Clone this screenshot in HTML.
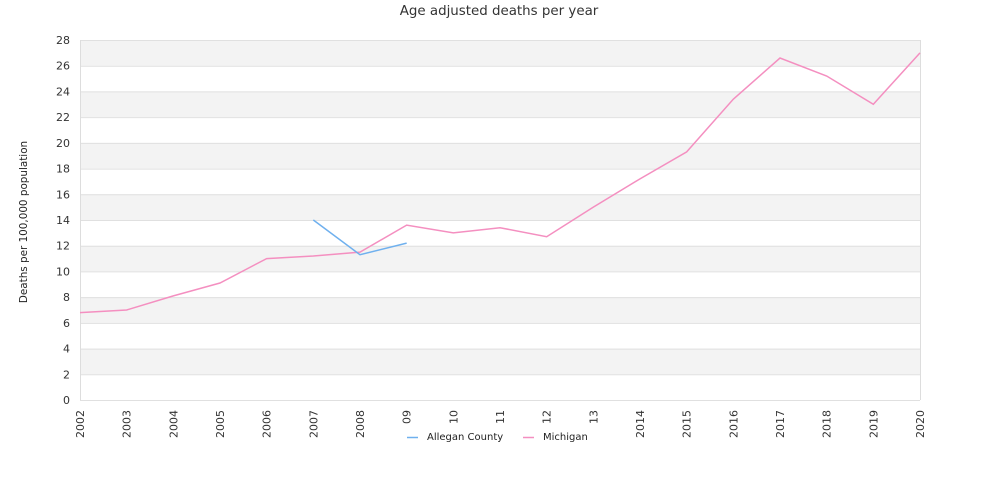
<!DOCTYPE html>
<html><head><style>body{margin:0;background:#fff}svg{display:block;font-family:"DejaVu Sans","Liberation Sans",sans-serif}</style></head><body>
<svg width="1000" height="500" xmlns="http://www.w3.org/2000/svg">
<text x="499" y="15" text-anchor="middle" font-size="13.4" fill="#333">Age adjusted deaths per year</text>
<g id="bands"></g>
<text transform="translate(27,222) rotate(-90)" text-anchor="middle" font-size="10.4" fill="#222">Deaths per 100,000 population</text>
<g id="grid"></g>
<g id="x"></g>
<polyline id="mi" fill="none" stroke="#f48fc0" stroke-width="1.5"/>
<polyline id="al" fill="none" stroke="#6fb0ee" stroke-width="1.5"/>
<line x1="407" y1="437.5" x2="418" y2="437.5" stroke="#6fb0ee" stroke-width="1.5"/>
<text x="427" y="440" font-size="10" fill="#222">Allegan County</text>
<line x1="523" y1="437.5" x2="534" y2="437.5" stroke="#f48fc0" stroke-width="1.5"/>
<text x="543" y="440" font-size="10" fill="#222">Michigan</text>
</svg>
<script>
const ns="http://www.w3.org/2000/svg",s=document.querySelector('svg');
function el(t,a,p,txt){const e=document.createElementNS(ns,t);for(const k in a)e.setAttribute(k,a[k]);if(txt!==undefined)e.textContent=txt;(p||s).appendChild(e);return e;}
const Y=v=>400-v*360/28,X=i=>80+i*840/18;
const b=document.getElementById('bands'),g=document.getElementById('grid'),xg=document.getElementById('x');
for(let v=0;v<28;v+=2){if((v/2)%2==1)el('rect',{x:80,y:Y(v+2),width:840,height:360/14,fill:'#f3f3f3'},b);}
for(let v=0;v<=28;v+=2){el('line',{x1:80,x2:920,y1:Y(v)+.5,y2:Y(v)+.5,stroke:'#e0e0e0'},g);el('text',{x:70,y:Y(v)+4,'text-anchor':'end','font-size':11,fill:'#333'},g,v);}
el('line',{x1:80.5,x2:80.5,y1:40,y2:400,stroke:'#ddd'},g);el('line',{x1:920.5,x2:920.5,y1:40,y2:400,stroke:'#ddd'},g);
const yrs=['2002','2003','2004','2005','2006','2007','2008','09','10','11','12','13','2014','2015','2016','2017','2018','2019','2020'];
yrs.forEach((y,i)=>el('text',{transform:`translate(${X(i)+4},410) rotate(-90)`,'text-anchor':'end','font-size':11,fill:'#333'},xg,y));
const mi=[6.8,7.0,8.1,9.1,11.0,11.2,11.5,13.6,13.0,13.4,12.7,15.0,17.2,19.3,23.4,26.6,25.2,23.0,27.0];
document.getElementById('mi').setAttribute('points',mi.map((v,i)=>X(i)+','+Y(v)).join(' '));
document.getElementById('al').setAttribute('points',[[5,14.0],[6,11.3],[7,12.2]].map(([i,v])=>X(i)+','+Y(v)).join(' '));
</script>
</body></html>
